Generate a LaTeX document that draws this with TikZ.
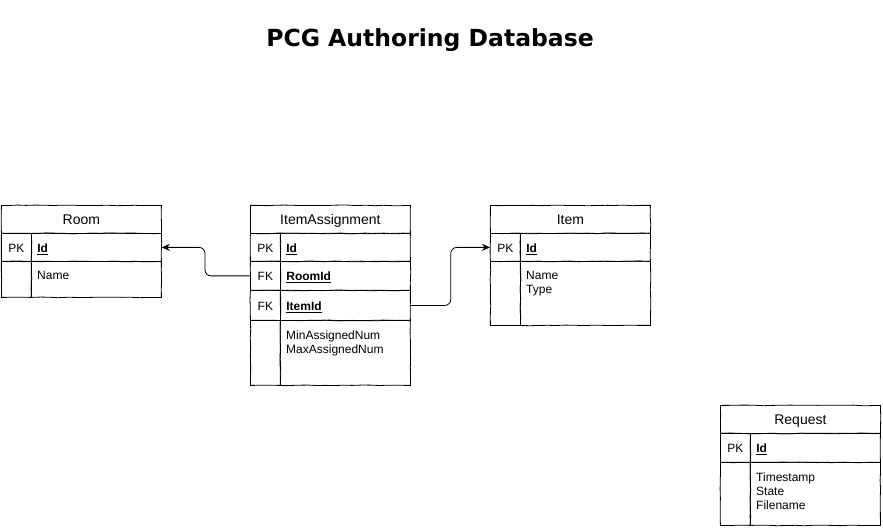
\documentclass[tikz,border=0pt]{standalone}
\usepackage{fontspec}
\setmainfont{Liberation Sans}
\newfontfamily\titlefont{DejaVu Sans}
\usepackage{tikz}
\usetikzlibrary{arrows.meta, decorations.pathmorphing}
\newcommand{\cellfont}{\fontsize{12}{14}\selectfont}
\newcommand{\headfont}{\fontsize{14}{16}\selectfont}
\tikzstyle{sketch} = [line width=0.8pt, decorate, decoration={random steps, segment length=9pt, amplitude=0.35pt}]
\tikzstyle{tablehead} = [rectangle, anchor=north west, minimum width=160pt, minimum height=28pt, inner sep=0, text height=11pt, text depth=0pt, text centered, draw=black, font=\headfont, sketch]
\tikzstyle{keycell} = [rectangle, anchor=north west, minimum width=30pt, minimum height=28pt, inner sep=0, text height=10pt, text depth=0pt, text centered, draw=black, font=\cellfont, sketch]
\tikzstyle{fieldcell} = [rectangle, anchor=north west, text width=118pt, inner xsep=6pt, inner ysep=0, minimum height=28pt, text height=10pt, text depth=0pt, align=left, draw=black, font=\cellfont, sketch]
\tikzstyle{attrs} = [label={[anchor=north west, align=left, font=\cellfont, inner xsep=6pt, inner ysep=10.5pt]north west:#1}]
\tikzstyle{arrow} = [-{Stealth[length=8pt, width=7pt]}, line width=0.8pt, rounded corners=6pt]

\begin{document}
\begin{tikzpicture}[x=1pt, y=-1pt]
\useasboundingbox (0,0) rectangle (883,529);

\node (title) at (430,40) {\titlefont\bfseries\fontsize{23.5}{28}\selectfont PCG Authoring Database};

% Room
\node (room) [tablehead] at (1,205) {Room};
\node (roomPk) [keycell] at (1,233) {PK};
\node (roomId) [fieldcell] at (31,233) {\underline{\textbf{Id}}};
\node (roomKeyA) [keycell, minimum height=36pt] at (1,261) {};
\node (roomAttr) [fieldcell, minimum height=36pt, attrs={Name}] at (31,261) {};

% ItemAssignment
\node (ia) [tablehead] at (250,205) {ItemAssignment};
\node (iaPk) [keycell] at (250,233) {PK};
\node (iaId) [fieldcell] at (280,233) {\underline{\textbf{Id}}};
\node (iaRoomFk) [keycell, minimum height=29pt] at (250,261) {FK};
\node (iaRoomId) [fieldcell, minimum height=29pt] at (280,261) {\underline{\textbf{RoomId}}};
\node (iaItemFk) [keycell, minimum height=30pt] at (250,290) {FK};
\node (iaItemId) [fieldcell, minimum height=30pt] at (280,290) {\underline{\textbf{ItemId}}};
\node (iaKeyA) [keycell, minimum height=65pt] at (250,320) {};
\node (iaAttr) [fieldcell, minimum height=65pt, attrs={MinAssignedNum\\MaxAssignedNum}] at (280,320) {};

% Item
\node (item) [tablehead] at (490,205) {Item};
\node (itemPk) [keycell] at (490,233) {PK};
\node (itemId) [fieldcell] at (520,233) {\underline{\textbf{Id}}};
\node (itemKeyA) [keycell, minimum height=64pt] at (490,261) {};
\node (itemAttr) [fieldcell, minimum height=64pt, attrs={Name\\Type}] at (520,261) {};

% Request
\node (req) [tablehead] at (720,405) {Request};
\node (reqPk) [keycell, minimum height=29pt] at (720,433) {PK};
\node (reqId) [fieldcell, minimum height=29pt] at (750,433) {\underline{\textbf{Id}}};
\node (reqKeyA) [keycell, minimum height=63pt] at (720,462) {};
\node (reqAttr) [fieldcell, minimum height=63pt, attrs={Timestamp\\State\\Filename}] at (750,462) {};

\draw [arrow] (iaRoomFk.west) -- ++(-45,0) |- (roomId.east);
\draw [arrow] (iaItemId.east) -- ++(40,0) |- (itemPk.west);

\end{tikzpicture}
\end{document}
